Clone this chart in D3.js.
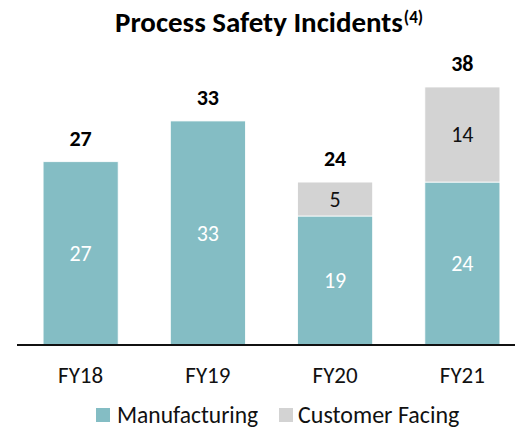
<!DOCTYPE html>
<html><head><meta charset="utf-8">
<script src="https://cdn.jsdelivr.net/npm/d3@7"></script>
<style>body{margin:0;background:#fff}svg{display:block}</style>
</head><body>
<svg id="c" width="515" height="428"></svg>
<script>
const categories = ["FY18","FY19","FY20","FY21"];
const manufacturing = [27,33,19,24];
const customerFacing = [0,0,5,14];
const totals = [27,33,24,38];
const seriesNames = ["Manufacturing","Customer Facing"];
const colors = ["#84BDC4","#D3D3D3"];
const FONT = "Calibri, Carlito, Lato, 'Open Sans', sans-serif";
const TITLE_FONT = "Calibri, Carlito, 'Open Sans', sans-serif";

const svg = d3.select("#c");
const x = d3.scaleBand().domain(categories).range([17,526]).paddingInner(0.41).paddingOuter(0.205);
const y = d3.scaleLinear().domain([0,38]).range([345,87]);

const rows = categories.map((c,i)=>({cat:c, Manufacturing:manufacturing[i], "Customer Facing":customerFacing[i]}));
const stack = d3.stack().keys(seriesNames)(rows);

const title = svg.append("text").attr("x",115).attr("y",32)
  .attr("font-family",TITLE_FONT).attr("font-weight","bold").attr("font-size",24).attr("fill","#000");
const tMain = title.append("tspan").text("Process Safety Incidents");
const w = tMain.node().getComputedTextLength();
const fs = 24*288/w;
title.attr("font-size",fs);
title.append("tspan").attr("dx",1).attr("dy",-9).attr("font-size",17).text("(4)");

stack.forEach((s,si)=>{
  svg.append("g").selectAll("rect").data(s.filter(d=>d[1]-d[0]>0)).join("rect")
    .attr("x",d=>x(d.data.cat)).attr("width",x.bandwidth())
    .attr("y",d=>y(d[1])).attr("height",d=>y(d[0])-y(d[1]))
    .attr("fill",colors[si]).attr("stroke","#fff").attr("stroke-width",0.8);
  svg.append("g").selectAll("text").data(s.filter(d=>d[1]-d[0]>0)).join("text")
    .attr("x",d=>x(d.data.cat)+x.bandwidth()/2).attr("y",d=>(y(d[0])+y(d[1]))/2)
    .attr("dy","0.35em").attr("text-anchor","middle")
    .attr("font-family",FONT).attr("font-size",22)
    .attr("fill",si===0?"#fff":"#111").text(d=>d[1]-d[0]);
});

svg.append("g").selectAll("text").data(totals).join("text")
  .attr("x",(d,i)=>x(categories[i])+x.bandwidth()/2).attr("y",d=>y(d)-16)
  .attr("text-anchor","middle").attr("font-family",FONT).attr("font-weight","bold")
  .attr("font-size",22).attr("fill","#000").text(d=>d);

svg.append("line").attr("x1",17).attr("x2",515).attr("y1",345).attr("y2",345)
  .attr("stroke","#111").attr("stroke-width",2);

const xAxis = svg.append("g").attr("transform","translate(0,345)")
  .call(d3.axisBottom(x).tickSize(0).tickPadding(22));
xAxis.select(".domain").remove();
xAxis.selectAll("text").attr("font-family",FONT).attr("font-size",23).attr("fill","#111");

const legendX = [96,279];
const lg = svg.append("g").selectAll("g").data(seriesNames).join("g")
  .attr("transform",(d,i)=>`translate(${legendX[i]},408)`);
lg.append("rect").attr("width",14).attr("height",14).attr("fill",(d,i)=>colors[i]);
lg.append("text").attr("x",(d,i)=>i===0?21:19).attr("y",7).attr("dy","0.35em")
  .attr("font-family",FONT).attr("font-size",(d,i)=>i===0?23.5:24).attr("fill","#111").text(d=>d);
</script>
</body></html>
